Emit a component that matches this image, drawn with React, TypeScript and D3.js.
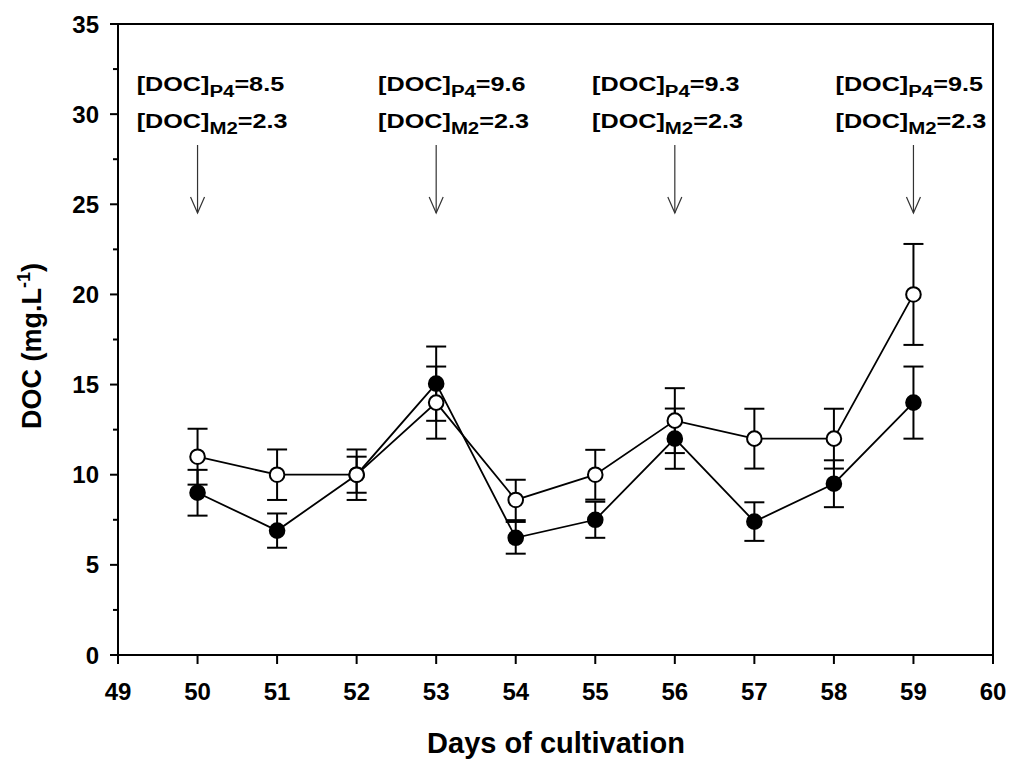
import React from "react";
import * as d3 from "d3";

const days = [50, 51, 52, 53, 54, 55, 56, 57, 58, 59];
const filledValues = [9.0, 6.9, 10.0, 15.05, 6.5, 7.5, 12.0, 7.4, 9.5, 14.0];
const filledErrors = [1.27, 0.95, 1.0, 2.06, 0.88, 1.0, 1.67, 1.07, 1.3, 2.0];
const openValues = [11.0, 10.0, 10.0, 14.0, 8.6, 10.0, 13.0, 12.0, 12.0, 20.0];
const openErrors = [1.55, 1.4, 1.4, 2.0, 1.12, 1.38, 1.8, 1.66, 1.66, 2.8];

const xTicks = [49, 50, 51, 52, 53, 54, 55, 56, 57, 58, 59, 60];
const yTicks = [0, 5, 10, 15, 20, 25, 30, 35];
const yMinorTicks = [2.5, 7.5, 12.5, 17.5, 22.5, 27.5, 32.5];

const annotationDays = [50, 53, 56, 59];
const annotationLabelDays = [49.235, 52.27, 54.96, 58.02];
const annotationP4 = ["8.5", "9.6", "9.3", "9.5"];
const annotationM2 = ["2.3", "2.3", "2.3", "2.3"];

const W = 1013;
const H = 761;
const left = 118;
const right = 993;
const top = 24;
const bottom = 655;

const FONT = "'Liberation Sans', Arial, Helvetica, sans-serif";

export default function App() {
  const x = d3.scaleLinear().domain([49, 60]).range([left, right]);
  const y = d3.scaleLinear().domain([0, 35]).range([bottom, top]);

  const line = d3
    .line<[number, number]>()
    .x((d) => x(d[0]))
    .y((d) => y(d[1]));

  const filledPts: [number, number][] = days.map((d, i) => [d, filledValues[i]]);
  const openPts: [number, number][] = days.map((d, i) => [d, openValues[i]]);

  const errBars = (vals: number[], errs: number[], key: string) =>
    days.map((d, i) => {
      const cx = x(d);
      const y1 = y(vals[i] + errs[i]);
      const y2 = y(vals[i] - errs[i]);
      return (
        <g key={key + i} stroke="#000" strokeWidth={2}>
          <line x1={cx} x2={cx} y1={y1} y2={y2} />
          <line x1={cx - 10} x2={cx + 10} y1={y1} y2={y1} />
          <line x1={cx - 10} x2={cx + 10} y1={y2} y2={y2} />
        </g>
      );
    });

  return (
    <svg
      width={W}
      height={H}
      style={{ position: "absolute", left: 0, top: 0, background: "#fff" }}
      fontFamily={FONT}
    >
      <rect x={0} y={0} width={W} height={H} fill="#fff" />
      {/* frame */}
      <rect
        x={left}
        y={top}
        width={right - left}
        height={bottom - top}
        fill="none"
        stroke="#000"
        strokeWidth={2}
      />
      {/* y ticks */}
      {yTicks.map((t) => (
        <g key={"yt" + t}>
          <line x1={left - 8} x2={left} y1={y(t)} y2={y(t)} stroke="#000" strokeWidth={2} />
          <text
            x={left - 19}
            y={y(t)}
            dy="0.36em"
            textAnchor="end"
            fontSize={24}
            fontWeight="bold"
          >
            {t}
          </text>
        </g>
      ))}
      {yMinorTicks.map((t) => (
        <line key={"ym" + t} x1={left - 5} x2={left} y1={y(t)} y2={y(t)} stroke="#000" strokeWidth={2} />
      ))}
      {/* x ticks */}
      {xTicks.map((t) => (
        <g key={"xt" + t}>
          <line x1={x(t)} x2={x(t)} y1={bottom} y2={bottom + 9} stroke="#000" strokeWidth={2} />
          <text x={x(t)} y={bottom + 45} textAnchor="middle" fontSize={24} fontWeight="bold">
            {t}
          </text>
        </g>
      ))}
      {/* axis titles */}
      <text x={556} y={753} textAnchor="middle" fontSize={29} fontWeight="bold">
        Days of cultivation
      </text>
      <text
        transform={`translate(41, 346) rotate(-90)`}
        textAnchor="middle"
        fontSize={27}
        fontWeight="bold"
      >
        DOC (mg.L
        <tspan fontSize={18} dy={-11}>-1</tspan>
        <tspan dy={11}>)</tspan>
      </text>

      {/* lines */}
      <path d={line(filledPts) || ""} fill="none" stroke="#000" strokeWidth={1.8} />
      <path d={line(openPts) || ""} fill="none" stroke="#000" strokeWidth={1.8} />
      {/* error bars */}
      {errBars(filledValues, filledErrors, "fe")}
      {errBars(openValues, openErrors, "oe")}
      {/* markers */}
      {filledPts.map((p, i) => (
        <circle key={"fm" + i} cx={x(p[0])} cy={y(p[1])} r={7.3} fill="#000" stroke="#000" strokeWidth={2} />
      ))}
      {openPts.map((p, i) => (
        <circle key={"om" + i} cx={x(p[0])} cy={y(p[1])} r={7.3} fill="#fff" stroke="#000" strokeWidth={2} />
      ))}

      {/* annotations */}
      {annotationDays.map((d, i) => {
        const ax = x(d);
        const lx = x(annotationLabelDays[i]);
        return (
          <g key={"ann" + i}>
            <g transform={`translate(${lx}, 91) scale(1.2, 1)`}>
              <text x={0} y={0} fontSize={21} fontWeight="bold">
                [DOC]
                <tspan fontSize={17} dy={6}>P4</tspan>
                <tspan dy={-6}>={annotationP4[i]}</tspan>
              </text>
            </g>
            <g transform={`translate(${lx}, 128) scale(1.2, 1)`}>
              <text x={0} y={0} fontSize={21} fontWeight="bold">
                [DOC]
                <tspan fontSize={17} dy={6}>M2</tspan>
                <tspan dy={-6}>={annotationM2[i]}</tspan>
              </text>
            </g>
            <g stroke="#333" strokeWidth={1.2} fill="none">
              <line x1={ax} x2={ax} y1={145} y2={213} />
              <polyline points={`${ax - 7},197 ${ax},213 ${ax + 7},197`} />
            </g>
          </g>
        );
      })}
    </svg>
  );
}
